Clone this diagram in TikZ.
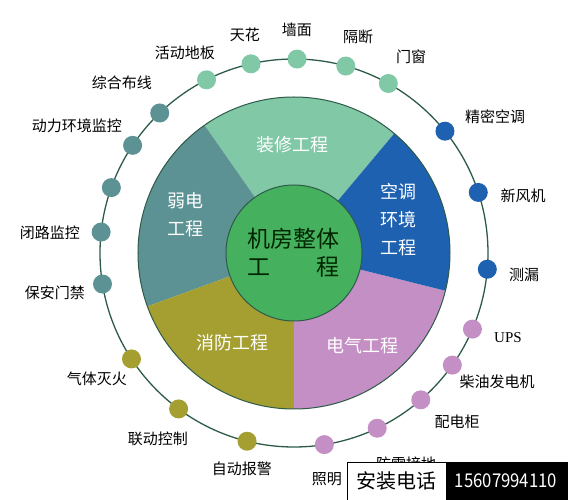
\documentclass[tikz,border=0pt]{standalone}
\usepackage{fontspec}
\setmainfont{Liberation Serif}
\newfontfamily\cjk{Noto Sans CJK SC}
\usepackage{tikz}
\usepackage{xcolor}

\definecolor{zxgreen}{HTML}{80C8A6}
\definecolor{rdteal}{HTML}{5C9294}
\definecolor{ktblue}{HTML}{1E61B0}
\definecolor{dqpink}{HTML}{C48FC4}
\definecolor{xfolive}{HTML}{A49F30}
\definecolor{midgreen}{HTML}{45B15E}
\definecolor{ringline}{HTML}{2E5A48}

\begin{document}
\begin{tikzpicture}[x=1pt, y=1pt,
    dot/.style={circle, inner sep=0pt, minimum size=19pt},
    lbl/.style={font=\cjk\fontsize{15}{15}\selectfont, text=black, inner sep=0pt},
    sect/.style={font=\cjk\fontsize{18}{28}\selectfont, text=white, align=center, inner sep=0pt}]
            \useasboundingbox (-294,-247) rectangle (274,253);
            \coordinate (O) at (0,0);
            % outer ring
            \draw[ringline, line width=1.3pt] (O) circle[radius=194];
            % pie
            \fill[zxgreen] (O) -- (50:156) arc[start angle=50, end angle=125, radius=156] -- cycle;
            \fill[rdteal] (O) -- (125:156) arc[start angle=125, end angle=200, radius=156] -- cycle;
            \fill[xfolive] (O) -- (200:156) arc[start angle=200, end angle=270, radius=156] -- cycle;
            \fill[dqpink] (O) -- (270:156) arc[start angle=270, end angle=346, radius=156] -- cycle;
            \fill[ktblue] (O) -- (-14:156) arc[start angle=-14, end angle=50, radius=156] -- cycle;
            \draw[ringline, line width=1pt] (O) circle[radius=156];
            \filldraw[fill=midgreen, draw=ringline, line width=1pt] (O) circle[radius=68];
            % sector texts
            \node[sect] (zx) at (-1,108) {装修工程};
            \node[sect] (rd) at (-108,38) {弱电\\工程};
            \node[sect] (kt) at (104,33) {空调\\环境\\工程};
            \node[sect] (xf) at (-61,-90) {消防工程};
            \node[sect] (dq) at (69,-93) {电气工程};
            \node[font=\cjk\fontsize{23}{28}\selectfont, text=black!85!green, align=center, inner sep=0pt] (jf) at (0,0) {机房整体\\工\hspace{2em}程};
            % dots
            \node[dot, fill=zxgreen] (tianhua) at (102.8:194) {};
            \node[dot, fill=zxgreen] (qiangmian) at (89.1:194) {};
            \node[dot, fill=zxgreen] (geduan) at (74.5:194) {};
            \node[dot, fill=zxgreen] (menchuang) at (60.9:194) {};
            \node[dot, fill=zxgreen] (diban) at (116.8:194) {};
            \node[dot, fill=rdteal] (buxian) at (133.8:194) {};
            \node[dot, fill=rdteal] (donghuan) at (146.3:194) {};
            \node[dot, fill=rdteal] (ruodian) at (160.3:194) {};
            \node[dot, fill=rdteal] (bilu) at (173.8:194) {};
            \node[dot, fill=rdteal] (baoan) at (189.2:194) {};
            \node[dot, fill=xfolive] (qiti) at (213.1:194) {};
            \node[dot, fill=xfolive] (liandong) at (233.5:194) {};
            \node[dot, fill=xfolive] (baojing) at (256:194) {};
            \node[dot, fill=dqpink] (zhaoming) at (279:194) {};
            \node[dot, fill=dqpink] (fanglei) at (295.4:194) {};
            \node[dot, fill=dqpink] (peidian) at (310.8:194) {};
            \node[dot, fill=dqpink] (chaiyou) at (324.7:194) {};
            \node[dot, fill=dqpink] (ups) at (336.9:194) {};
            \node[dot, fill=ktblue] (celou) at (355.2:194) {};
            \node[dot, fill=ktblue] (xinfeng) at (18.2:194) {};
            \node[dot, fill=ktblue] (jingmi) at (38.9:194) {};
            % labels
            \node[lbl] (tianhua-t) at (-49,218) {天花};
            \node[lbl] (qiangmian-t) at (3,223) {墙面};
            \node[lbl] (geduan-t) at (64,216) {隔断};
            \node[lbl] (menchuang-t) at (117,196) {门窗};
            \node[lbl] (diban-t) at (-109,200) {活动地板};
            \node[lbl] (buxian-t) at (-172,170) {综合布线};
            \node[lbl] (donghuan-t) at (-217,127) {动力环境监控};
            \node[lbl] (bilu-t) at (-244,20) {闭路监控};
            \node[lbl] (baoan-t) at (-239,-40) {保安门禁};
            \node[lbl] (qiti-t) at (-197,-126) {气体灭火};
            \node[lbl] (liandong-t) at (-136,-186) {联动控制};
            \node[lbl] (baojing-t) at (-52,-216) {自动报警};
            \node[lbl] (zhaoming-t) at (33,-226) {照明};
            \node[lbl] (fanglei-t) at (112,-211) {防雷接地};
            \node[lbl] (peidian-t) at (163,-169) {配电柜};
            \node[lbl] (chaiyou-t) at (203,-129) {柴油发电机};
            \node[lbl, font=\fontsize{15}{15}\selectfont] (ups-t) at (214,-85) {UPS};
            \node[lbl] (celou-t) at (230,-22) {测漏};
            \node[lbl] (xinfeng-t) at (229,57) {新风机};
            \node[lbl] (jingmi-t) at (201,136) {精密空调};
            % phone banner
            \draw[fill=white, draw=black, line width=0.8pt] (53,-209) rectangle (152,-248);
            \fill[black] (152,-209) rectangle (274,-248);
            \node[font=\cjk\fontsize{20}{20}\selectfont, inner sep=0pt] (tel) at (102.5,-228) {安装电话};
            \node[font=\cjk\fontsize{19}{19}\selectfont, text=white, inner sep=0pt] (telno) at (212,-228) {\scalebox{0.88}[1]{15607994110}};
        \end{tikzpicture}
\end{document}
